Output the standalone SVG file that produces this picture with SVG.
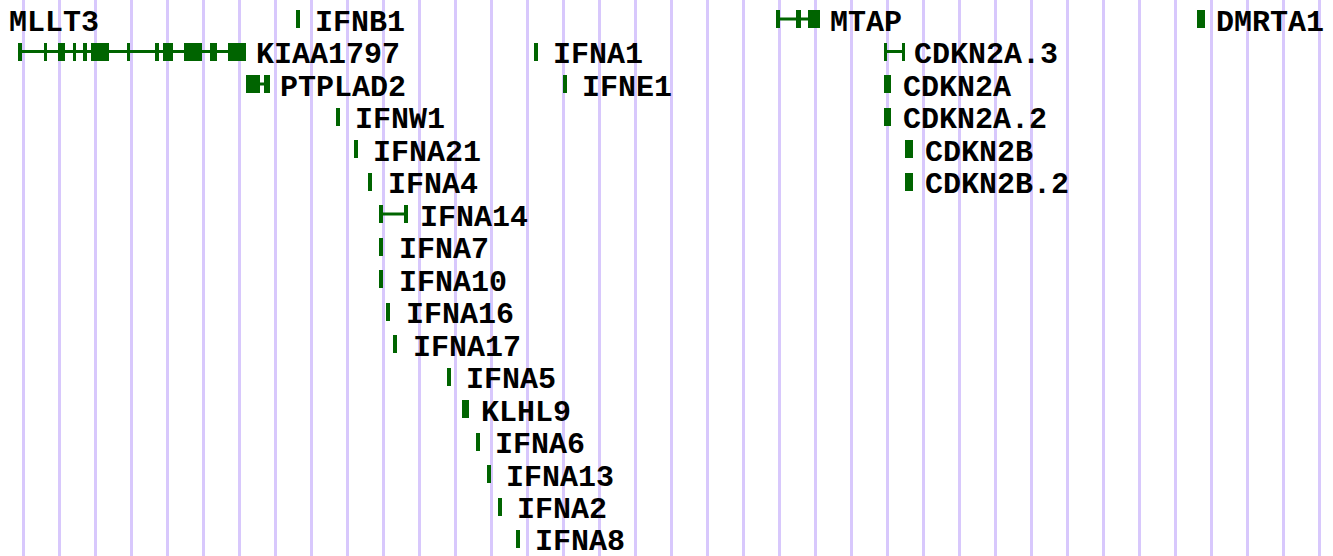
<svg xmlns="http://www.w3.org/2000/svg" width="1333" height="556" viewBox="0 0 1333 556">
<style>
.grid line{stroke:#D8C8FC;stroke-width:3}
.g{fill:#006400}
.ln{stroke:#006400;stroke-width:3}
text{font-family:"Liberation Mono","DejaVu Sans Mono",monospace;font-weight:bold;font-size:30px;fill:#000}
rect{shape-rendering:crispEdges}
</style>
<defs>
<rect id="tick" class="g" width="4" height="18"/>
<rect id="box" class="g" width="8" height="18"/>
</defs>
<rect width="1333" height="556" fill="#fff"/>
<g class="grid" id="grid">
<line x1="23.5" y1="0" x2="23.5" y2="556"/><line x1="59.5" y1="0" x2="59.5" y2="556"/><line x1="95.5" y1="0" x2="95.5" y2="556"/><line x1="131.5" y1="0" x2="131.5" y2="556"/><line x1="167.5" y1="0" x2="167.5" y2="556"/><line x1="203.5" y1="0" x2="203.5" y2="556"/><line x1="239.5" y1="0" x2="239.5" y2="556"/><line x1="275.5" y1="0" x2="275.5" y2="556"/><line x1="311.5" y1="0" x2="311.5" y2="556"/><line x1="347.5" y1="0" x2="347.5" y2="556"/><line x1="383.5" y1="0" x2="383.5" y2="556"/><line x1="419.5" y1="0" x2="419.5" y2="556"/><line x1="455.5" y1="0" x2="455.5" y2="556"/><line x1="491.5" y1="0" x2="491.5" y2="556"/><line x1="527.5" y1="0" x2="527.5" y2="556"/><line x1="563.5" y1="0" x2="563.5" y2="556"/><line x1="599.5" y1="0" x2="599.5" y2="556"/><line x1="635.5" y1="0" x2="635.5" y2="556"/><line x1="671.5" y1="0" x2="671.5" y2="556"/><line x1="707.5" y1="0" x2="707.5" y2="556"/><line x1="743.5" y1="0" x2="743.5" y2="556"/><line x1="779.5" y1="0" x2="779.5" y2="556"/><line x1="815.5" y1="0" x2="815.5" y2="556"/><line x1="851.5" y1="0" x2="851.5" y2="556"/><line x1="887.5" y1="0" x2="887.5" y2="556"/><line x1="923.5" y1="0" x2="923.5" y2="556"/><line x1="959.5" y1="0" x2="959.5" y2="556"/><line x1="995.5" y1="0" x2="995.5" y2="556"/><line x1="1031.5" y1="0" x2="1031.5" y2="556"/><line x1="1067.5" y1="0" x2="1067.5" y2="556"/><line x1="1103.5" y1="0" x2="1103.5" y2="556"/><line x1="1139.5" y1="0" x2="1139.5" y2="556"/><line x1="1175.5" y1="0" x2="1175.5" y2="556"/><line x1="1211.5" y1="0" x2="1211.5" y2="556"/><line x1="1247.5" y1="0" x2="1247.5" y2="556"/><line x1="1283.5" y1="0" x2="1283.5" y2="556"/><line x1="1319.5" y1="0" x2="1319.5" y2="556"/>
</g>
<g id="connectors"/>
<g id="MLLT3"><text x="9" y="30.5">MLLT3</text></g>
<g id="IFNB1"><use href="#tick" x="296" y="10"/><text x="315" y="30.5">IFNB1</text></g>
<g id="MTAP"><line class="ln" x1="776" y1="19" x2="820" y2="19"/><rect class="g" x="776" y="10" width="4" height="18"/><rect class="g" x="796" y="10" width="5" height="18"/><rect class="g" x="808" y="10" width="12" height="18"/><text x="830" y="30.5">MTAP</text></g>
<g id="DMRTA1"><use href="#box" x="1197" y="10"/><text x="1216" y="30.5">DMRTA1</text></g>

<g id="KIAA1797"><line class="ln" x1="18" y1="51.5" x2="246" y2="51.5"/>
<rect class="g" x="18" y="42.5" width="4" height="18"/><rect class="g" x="44" y="42.5" width="3" height="18"/><rect class="g" x="58" y="42.5" width="7" height="18"/><rect class="g" x="73" y="42.5" width="3" height="18"/><rect class="g" x="83" y="42.5" width="4" height="18"/><rect class="g" x="91" y="42.5" width="18" height="18"/><rect class="g" x="127" y="42.5" width="3" height="18"/><rect class="g" x="155" y="42.5" width="4" height="18"/><rect class="g" x="163" y="42.5" width="10" height="18"/><rect class="g" x="184" y="42.5" width="18" height="18"/><rect class="g" x="210" y="42.5" width="7" height="18"/><rect class="g" x="228" y="42.5" width="18" height="18"/>
<text x="256" y="63">KIAA1797</text></g>
<g id="IFNA1"><use href="#tick" x="534" y="42.5"/><text x="553" y="63">IFNA1</text></g>
<g id="CDKN2A.3"><line class="ln" x1="884" y1="51.5" x2="905" y2="51.5"/><rect class="g" x="884" y="42.5" width="3" height="18"/><rect class="g" x="902" y="42.5" width="3" height="18"/><text x="914" y="63">CDKN2A.3</text></g>

<g id="PTPLAD2"><line class="ln" x1="246" y1="84" x2="270" y2="84"/><rect class="g" x="246" y="75" width="14" height="18"/><rect class="g" x="264" y="75" width="6" height="18"/><text x="280" y="95.5">PTPLAD2</text></g>
<g id="IFNE1"><use href="#tick" x="563" y="75"/><text x="582" y="95.5">IFNE1</text></g>
<g id="CDKN2A"><rect class="g" x="884" y="75" width="7" height="18"/><text x="903" y="95.5">CDKN2A</text></g>

<g id="IFNW1"><use href="#tick" x="336" y="107.5"/><text x="355" y="128">IFNW1</text></g>
<g id="CDKN2A.2"><rect class="g" x="884" y="107.5" width="7" height="18"/><text x="903" y="128">CDKN2A.2</text></g>

<g id="IFNA21"><use href="#tick" x="354" y="140"/><text x="373" y="160.5">IFNA21</text></g>
<g id="CDKN2B"><use href="#box" x="905" y="140"/><text x="925" y="160.5">CDKN2B</text></g>

<g id="IFNA4"><use href="#tick" x="368" y="172.5"/><text x="388" y="193">IFNA4</text></g>
<g id="CDKN2B.2"><use href="#box" x="905" y="172.5"/><text x="925" y="193">CDKN2B.2</text></g>

<g id="IFNA14"><line class="ln" x1="379" y1="214" x2="408" y2="214"/><rect class="g" x="379" y="205" width="4" height="18"/><rect class="g" x="404" y="205" width="4" height="18"/><text x="420" y="225.5">IFNA14</text></g>
<g id="IFNA7"><use href="#tick" x="379" y="237.5"/><text x="399" y="258">IFNA7</text></g>
<g id="IFNA10"><use href="#tick" x="379" y="270"/><text x="399" y="290.5">IFNA10</text></g>
<g id="IFNA16"><use href="#tick" x="386" y="302.5"/><text x="406" y="323">IFNA16</text></g>
<g id="IFNA17"><use href="#tick" x="393" y="335"/><text x="413" y="355.5">IFNA17</text></g>
<g id="IFNA5"><use href="#tick" x="447" y="367.5"/><text x="466" y="388">IFNA5</text></g>
<g id="KLHL9"><rect class="g" x="462" y="400" width="7" height="18"/><text x="481" y="420.5">KLHL9</text></g>
<g id="IFNA6"><use href="#tick" x="476" y="432.5"/><text x="495" y="453">IFNA6</text></g>
<g id="IFNA13"><use href="#tick" x="487" y="465"/><text x="506" y="485.5">IFNA13</text></g>
<g id="IFNA2"><use href="#tick" x="498" y="497.5"/><text x="517" y="518">IFNA2</text></g>
<g id="IFNA8"><use href="#tick" x="516" y="530"/><text x="535" y="550">IFNA8</text></g>
</svg>
